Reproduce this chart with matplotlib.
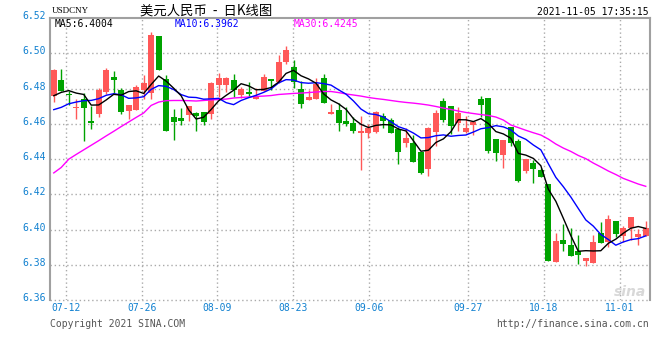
import numpy as np
import pandas as pd
import matplotlib
matplotlib.use('Agg')
import matplotlib.pyplot as plt
import matplotlib.transforms as mtransforms

# USD/CNY daily candles, 2021-07-08 .. 2021-11-05 (80 sessions)
opens = [6.4758, 6.4849, 6.4763, 6.4688, 6.4741, 6.4614, 6.4654, 6.4779, 6.4868, 6.4790,
         6.4673, 6.4679, 6.4790, 6.4773, 6.5096, 6.4853, 6.4637, 6.4631, 6.4650, 6.4660,
         6.4669, 6.4656, 6.4820, 6.4820, 6.4847, 6.4764, 6.4779, 6.4741, 6.4783, 6.4853,
         6.4839, 6.4951, 6.4921, 6.4796, 6.4735, 6.4741, 6.4862, 6.4656, 6.4679, 6.4613,
         6.4606, 6.4546, 6.4546, 6.4555, 6.4644, 6.4622, 6.4571, 6.4490, 6.4490, 6.4442,
         6.4342, 6.4555, 6.4729, 6.4701, 6.4603, 6.4555, 6.4593, 6.4741, 6.4745, 6.4512,
         6.4423, 6.4580, 6.4502, 6.4332, 6.4379, 6.4338, 6.4258, 6.3817, 6.3940, 6.3912,
         6.3878, 6.3823, 6.3812, 6.3978, 6.3931, 6.4048, 6.3963, 6.4010, 6.3959, 6.3963]
highs = [6.4911, 6.4911, 6.4783, 6.4741, 6.4773, 6.4701, 6.4802, 6.4915, 6.4900, 6.4805,
         6.4705, 6.4820, 6.4877, 6.5119, 6.5096, 6.4875, 6.4682, 6.4688, 6.4703, 6.4669,
         6.4669, 6.4839, 6.4890, 6.4864, 6.4881, 6.4811, 6.4836, 6.4802, 6.4881, 6.4853,
         6.4991, 6.5042, 6.4964, 6.4845, 6.4792, 6.4862, 6.4881, 6.4711, 6.4716, 6.4694,
         6.4640, 6.4646, 6.4597, 6.4673, 6.4660, 6.4631, 6.4580, 6.4575, 6.4537, 6.4442,
         6.4584, 6.4680, 6.4745, 6.4701, 6.4697, 6.4644, 6.4612, 6.4759, 6.4745, 6.4512,
         6.4508, 6.4580, 6.4512, 6.4400, 6.4394, 6.4350, 6.4258, 6.3978, 6.4031, 6.4007,
         6.3969, 6.3840, 6.3969, 6.4044, 6.4082, 6.4048, 6.4022, 6.4069, 6.4001, 6.4048]
lows = [6.4726, 6.4783, 6.4707, 6.4628, 6.4503, 6.4569, 6.4641, 6.4771, 6.4773, 6.4654,
        6.4626, 6.4679, 6.4741, 6.4741, 6.4904, 6.4560, 6.4509, 6.4594, 6.4613, 6.4560,
        6.4594, 6.4628, 6.4754, 6.4779, 6.4754, 6.4745, 6.4751, 6.4738, 6.4783, 6.4792,
        6.4830, 6.4938, 6.4802, 6.4688, 6.4732, 6.4741, 6.4718, 6.4656, 6.4560, 6.4590,
        6.4546, 6.4338, 6.4518, 6.4546, 6.4578, 6.4546, 6.4370, 6.4470, 6.4385, 6.4314,
        6.4304, 6.4474, 6.4612, 6.4541, 6.4561, 6.4546, 6.4537, 6.4640, 6.4433, 6.4391,
        6.4348, 6.4475, 6.4271, 6.4322, 6.4262, 6.4296, 6.3823, 6.3817, 6.3880, 6.3851,
        6.3802, 6.3793, 6.3812, 6.3925, 6.3902, 6.3959, 6.3931, 6.3940, 6.3912, 6.3963]
closes = [6.4905, 6.4786, 6.4762, 6.4690, 6.4688, 6.4603, 6.4790, 6.4904, 6.4849, 6.4665,
          6.4705, 6.4811, 6.4830, 6.5104, 6.4904, 6.4560, 6.4611, 6.4616, 6.4703, 6.4645,
          6.4609, 6.4830, 6.4862, 6.4858, 6.4790, 6.4796, 6.4769, 6.4751, 6.4868, 6.4843,
          6.4949, 6.5017, 6.4839, 6.4713, 6.4754, 6.4826, 6.4718, 6.4665, 6.4603, 6.4597,
          6.4559, 6.4559, 6.4575, 6.4665, 6.4618, 6.4550, 6.4442, 6.4521, 6.4385, 6.4323,
          6.4578, 6.4663, 6.4622, 6.4589, 6.4663, 6.4575, 6.4612, 6.4707, 6.4448, 6.4436,
          6.4508, 6.4489, 6.4277, 6.4400, 6.4343, 6.4300, 6.3823, 6.3935, 6.3918, 6.3851,
          6.3855, 6.3840, 6.3927, 6.3925, 6.4060, 6.3974, 6.4007, 6.4069, 6.3974, 6.4007]

# closes of the 9 sessions before the window, only needed to start MA5 / MA10
pre_closes = [6.4656, 6.4560, 6.4590, 6.4610, 6.4589, 6.4691, 6.4712, 6.4760, 6.4727]

# MA30 (its start needs June data we don't have)
ma30 = [6.4321, 6.4352, 6.4399, 6.4426, 6.4452, 6.4478, 6.4504, 6.4531, 6.4557, 6.4584,
        6.4610, 6.4636, 6.4661, 6.4704, 6.4723, 6.4731, 6.4732, 6.4732, 6.4731, 6.4729,
        6.4732, 6.4735, 6.4738, 6.4740, 6.4746, 6.4749, 6.4752, 6.4755, 6.4757, 6.4760,
        6.4766, 6.4769, 6.4772, 6.4774, 6.4777, 6.4780, 6.4783, 6.4783, 6.4777, 6.4769,
        6.4763, 6.4757, 6.4749, 6.4743, 6.4738, 6.4732, 6.4726, 6.4721, 6.4717, 6.4712,
        6.4706, 6.4698, 6.4689, 6.4681, 6.4672, 6.4664, 6.4658, 6.4652, 6.4647, 6.4638,
        6.4621, 6.4593, 6.4578, 6.4563, 6.4549, 6.4536, 6.4513, 6.4485, 6.4462, 6.4443,
        6.4420, 6.4402, 6.4377, 6.4355, 6.4332, 6.4312, 6.4290, 6.4274, 6.4258, 6.4245]

date_labels = ['07-12', '07-26', '08-09', '08-23', '09-06', '09-27', '10-18', '11-01']
date_index = [2, 12, 22, 32, 42, 55, 65, 75]
y_ticks = [6.36, 6.38, 6.40, 6.42, 6.44, 6.46, 6.48, 6.50, 6.52]

RED = '#ff5858'
GREEN = '#00a300'
BLUE_TXT = '#1080d0'
GRID = '#aaaaaa'
MONO = 'DejaVu Sans Mono'

W, H = 660, 360
fig = plt.figure(figsize=(W / 100, H / 100), dpi=100)
ax = fig.add_axes([50 / W, 60 / H, 599.5 / W, 282 / H])
ax.set_xlim(-0.5, len(closes) - 0.5)
ax.set_ylim(y_ticks[0], y_ticks[-1])
ax.set_xticks([])
ax.set_yticks([])

# grid --------------------------------------------------------------
for yv in y_ticks[:-1]:
    ax.axhline(yv, color=GRID, lw=1, ls=(0, (1, 2)), zorder=1, clip_on=False)
# sina spreads the date grid over the whole width, a bit wider than the candles
grid_x = [k * 80 / 79 - 0.43 for k in date_index]
for gx in grid_x:
    ax.axvline(gx, color=GRID, lw=1, ls=(0, (1, 2)), zorder=1)

for side in ['top', 'left', 'right']:
    ax.spines[side].set_color('#a0a0a0')
    ax.spines[side].set_linewidth(1.5)
ax.spines['bottom'].set_visible(False)

# candles -----------------------------------------------------------
x = np.arange(len(closes))
o = np.array(opens)
c = np.array(closes)
colors = np.where(c >= o, RED, GREEN)
ax.vlines(x, lows, highs, colors=colors, lw=1, zorder=3)
body = np.maximum(np.abs(c - o), 0.0005)
ax.bar(x, body, width=0.8, bottom=np.minimum(o, c), color=colors, lw=0, zorder=4)

# moving averages ---------------------------------------------------
allc = pd.Series(pre_closes + closes)
ma5 = allc.rolling(5).mean().to_numpy()[len(pre_closes):]
ma10 = allc.rolling(10).mean().to_numpy()[len(pre_closes):]
ax.plot(x, ma30, color='#ff00ff', lw=1, zorder=5)
ax.plot(x, ma10, color='#0000ff', lw=1, zorder=5)
ax.plot(x, ma5, color='black', lw=1, zorder=6)

# axis labels -------------------------------------------------------
ytrans = mtransforms.blended_transform_factory(ax.transAxes, ax.transData) + \
    mtransforms.ScaledTranslation(-4 / 100, 2 / 100, fig.dpi_scale_trans)
for yv in y_ticks:
    ax.text(0, yv, f'{yv:.2f}', transform=ytrans, ha='right', va='center',
            family=MONO, fontsize=7, color=BLUE_TXT)
xtrans = ax.transData + mtransforms.ScaledTranslation(0, -8 / 100, fig.dpi_scale_trans)
for gx, lab in zip(grid_x, date_labels):
    ax.text(gx, y_ticks[0], lab, transform=xtrans, ha='center', va='center',
            family=MONO, fontsize=7, color=BLUE_TXT)


def ftext(px, py, s, **kw):
    fig.text(px / W, 1 - py / H, s, **kw)


ftext(52, 11, 'USDCNY', family='Liberation Serif', fontsize=6.5, va='center')
ftext(206, 11, '美元人民币  -  日K线图', ha='center', va='center',
      family=['Noto Sans CJK SC', 'DejaVu Sans'], fontsize=9.6, weight='medium')
ftext(649, 12, '2021-11-05 17:35:15', ha='right', va='center', family=MONO, fontsize=7)
ftext(55, 24, 'MA5:6.4004', va='center', family=MONO, fontsize=7, color='black')
ftext(175, 24, 'MA10:6.3962', va='center', family=MONO, fontsize=7, color='#0000ff')
ftext(294, 24, 'MA30:6.4245', va='center', family=MONO, fontsize=7, color='#ff00ff')
ftext(50, 324, 'Copyright 2021 SINA.COM', va='center', family=MONO, fontsize=7, color='#555555')
ftext(649, 324, 'http://finance.sina.com.cn', ha='right', va='center', family=MONO,
      fontsize=7, color='#555555')
ftext(646, 292, 'sina', ha='right', va='center', fontsize=10, style='italic',
      weight='bold', color='#d8d8d8')

fig.savefig('out.png', dpi=100)
